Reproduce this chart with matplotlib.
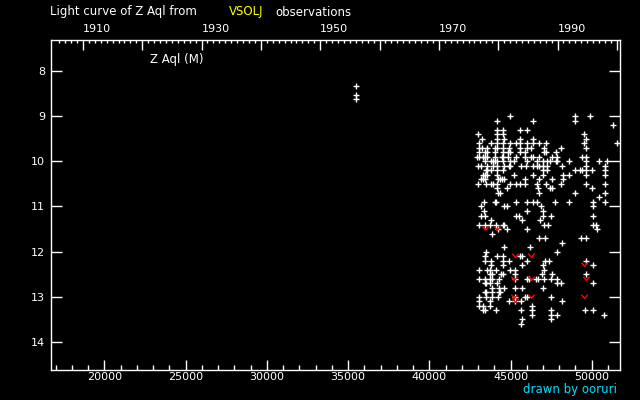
import matplotlib
matplotlib.use('Agg')
import matplotlib.pyplot as plt
from matplotlib.ticker import MultipleLocator

# magnitude rows (visual estimates) and the JD-2400000 of each observation in that row
row_mags = [8.33, 8.54, 8.63,
            9.0, 9.1, 9.2, 9.3, 9.4, 9.5, 9.6, 9.7, 9.8, 9.9,
            10.0, 10.1, 10.2, 10.3, 10.4, 10.5, 10.6, 10.7, 10.8, 10.9,
            11.0, 11.1, 11.2, 11.3, 11.4, 11.5, 11.6, 11.7, 11.8, 11.9,
            12.0, 12.1, 12.2, 12.3, 12.4, 12.5, 12.6, 12.7, 12.8, 12.9,
            13.0, 13.1, 13.2, 13.3, 13.4, 13.5, 13.6]
row_jds = [
    [35470], [35470], [35470],
    [44990, 48990, 49920],
    [44190, 46410, 48990],
    [51330],
    [44190, 44560, 45610, 46040],
    [43020, 44190, 44560, 49550],
    [43270, 44190, 44590, 45610, 46410, 49670],
    [43080, 43820, 44190, 44560, 44990, 45360, 45610, 46040, 46410, 46780, 47210, 49550, 51580],
    [43080, 43270, 43570, 44070, 44190, 44560, 44930, 45610, 46040, 46280, 47080, 48130, 49670],
    [43080, 43450, 43570, 44070, 44560, 44870, 44990, 45610, 45910, 47080, 47210, 47820],
    [42960, 43080, 43330, 43450, 43570, 44070, 44500, 44560, 44870, 45360, 45910, 46280, 46410,
     46780, 47580, 47880, 49420, 49670],
    [43450, 43820, 43940, 44070, 44190, 44560, 44990, 45240, 46040, 46650, 47020, 47270, 47450,
     47820, 47880, 48620, 49670, 50470, 50960],
    [43020, 43200, 43570, 43940, 44190, 44620, 44930, 44990, 45670, 45980, 46410, 46650, 46780,
     47020, 47270, 48190, 49670, 50840],
    [43510, 43570, 43820, 44190, 44560, 47020, 47270, 48990, 49300, 49420, 49670, 50040, 50840],
    [43330, 43450, 43570, 44190, 45240, 46410, 47020, 48250, 48620, 49670, 50840],
    [43200, 43330, 43450, 44250, 44370, 44500, 44620, 45910, 46780, 47580, 48250],
    [43020, 43510, 43820, 43940, 44190, 44990, 45360, 45610, 45910, 46650, 47210, 48130, 49670, 50840],
    [44190, 44800, 46710, 47450, 47580, 50040],
    [44250, 44370, 46780, 48990, 50840],
    [50470],
    [43390, 44070, 44130, 45360, 46040, 46410, 46650, 47760, 48620, 50100, 50840],
    [43200, 44620, 44800, 46900, 50100],
    [43390, 46040, 47020],
    [43200, 43450, 45360, 45540, 47020, 47510, 50100],
    [43820, 45730, 46840],
    [43080, 43450, 43760, 44130, 44560, 44620, 47080, 47330, 50100, 50290],
    [44250, 44800, 46040, 50350],
    [43880],
    [46780, 47150, 49360, 49670],
    [48190],
    [44620, 46220],
    [43510, 47880],
    [43450, 44190, 44560, 45610, 45730],
    [43450, 43820, 44560, 44930, 46040, 47150, 47390, 49670],
    [43820, 44560, 45730, 47020, 50100],
    [43080, 43570, 43760, 44130, 44990, 45300, 47080],
    [43760, 43880, 44440, 44560, 45300, 46960, 47580, 49670],
    [43080, 43450, 43760, 43880, 44310, 45300, 46040, 46160, 46590, 46710, 47080, 47510, 47880],
    [43450, 43510, 43760, 44190, 47880, 48130, 50100],
    [43880, 44310, 44620, 45300, 45730, 47020],
    [43450, 43510, 43880, 44310, 44370],
    [43080, 43510, 43880, 44250, 45300, 45910, 46040, 47510],
    [43080, 43760, 44930, 45300, 45670, 48190],
    [43080, 43330, 43760, 46350],
    [43330, 43450, 44130, 45670, 46350, 47510, 49610, 50100],
    [46350, 47510, 47880, 50780],
    [45730, 47510],
    [45670],
]

# fainter-than observations
fainter_jd = [43430, 44190, 45300, 46280, 45240, 46280, 45240, 46280, 45300, 49550, 49670, 49550]
fainter_mag = [11.48, 11.47, 12.08, 12.08, 12.59, 12.59, 12.99, 12.99, 13.08, 12.28, 12.59, 12.99]

year_labels = [1910, 1930, 1950, 1970, 1990]

obs_jd = []
obs_mag = []
for m, jds in zip(row_mags, row_jds):
    for j in jds:
        obs_jd.append(j)
        obs_mag.append(m)


def year_to_jd(y):
    # JD-2400000 at start of year
    return 15020 + (y - 1900) * 365.25


fig = plt.figure(figsize=(6.4, 4.0), dpi=100, facecolor='black')
ax = fig.add_axes([0.079, 0.0743, 0.8905, 0.8245])
ax.set_facecolor('black')
for s in ax.spines.values():
    s.set_color('white')
    s.set_linewidth(1)

ax.plot(obs_jd, obs_mag, '+', color='white', ms=3.8, mew=1, linestyle='none',
        antialiased=False)
vmark = [(-1, 0.6), (0, -0.6), (1, 0.6)]
ax.plot(fainter_jd, fainter_mag, marker=vmark, ms=4.5, mfc='none', mec='red', mew=1,
        linestyle='none', antialiased=False)

ax.set_xlim(16681, 51770)
ax.set_ylim(14.626, 7.325)
ax.xaxis.set_major_locator(MultipleLocator(5000))
ax.xaxis.set_minor_locator(MultipleLocator(1000))
ax.yaxis.set_major_locator(MultipleLocator(1))
ax.tick_params(axis='x', which='major', direction='in', length=7.2, width=1, color='white',
               labelcolor='white', labelsize=8, pad=1.5, top=False)
ax.tick_params(axis='x', which='minor', direction='in', length=3.6, width=1, color='white',
               top=False)
ax.tick_params(axis='y', which='major', direction='in', length=7.7, width=1, color='white',
               labelcolor='white', labelsize=8, pad=4, right=True)

# top axis in years
ax2 = ax.twiny()
ax2.set_xlim(ax.get_xlim())
for s in ax2.spines.values():
    s.set_visible(False)
major_years = list(range(1910, 2001, 10))
ax2.set_xticks([year_to_jd(y) for y in major_years])
ax2.set_xticklabels([str(y) if y in year_labels else '' for y in major_years])
ax2.set_xticks([year_to_jd(y) for y in range(1906, 2001)], minor=True)
ax2.tick_params(axis='x', which='major', direction='in', length=7.2, width=1, color='white',
                labelcolor='white', labelsize=8, pad=5)
ax2.tick_params(axis='x', which='minor', direction='in', length=2.4, width=1, color='white')
plt.setp(ax2.get_xticklabels(), ha='left')

fig.text(50 / 640, 1 - 12 / 400, 'Light curve of Z Aql from', color='white', fontsize=8.5,
         va='center', ha='left')
fig.text(229 / 640, 1 - 12 / 400, 'VSOLJ', color='#ffff00', fontsize=8.5, va='center', ha='left')
fig.text(275 / 640, 1 - 12 / 400, 'observations', color='white', fontsize=8.5, va='center',
         ha='left')
fig.text(150 / 640, 1 - 60 / 400, 'Z Aql (M)', color='white', fontsize=8.5, va='center', ha='left')
fig.text(617 / 640, 1 - 390 / 400, 'drawn by ooruri', color='#00e0ff', fontsize=8.5, va='center',
         ha='right')

fig.savefig('out.png', dpi=100, facecolor='black')
